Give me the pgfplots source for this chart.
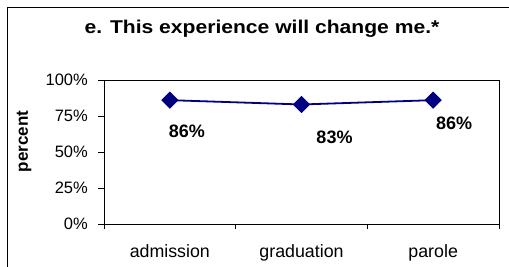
\documentclass[border=0pt]{standalone}
\usepackage{pgfplots}
\pgfplotsset{compat=1.18}
\usepackage{pgfplotstable}
\usepackage{fontspec}
\setmainfont{Liberation Sans}
\definecolor{navy}{RGB}{0,0,128}
\pgfplotstableread{
x y dx dy lab
0.5 86 17 -31 86
1.5 83 33 -32.5 83
2.5 86 21 -23 86
}\datatable
\begin{document}
\begin{tikzpicture}[x=1bp,y=1bp]
\useasboundingbox (0,0) rectangle (509,266);
\draw[line width=1bp] (7.5,-5) -- (7.5,258) -- (515,258);
\node[font=\bfseries\fontsize{18.5bp}{21bp}\selectfont, anchor=base] at (262,233) {\scalebox{1.14}[1]{e. This experience will change me.*}};
\node[font=\bfseries\fontsize{17bp}{20bp}\selectfont, rotate=90, anchor=center] at (24,124.5) {percent};
\begin{axis}[
  at={(104bp,42bp)}, anchor=south west, scale only axis,
  width=395bp, height=144bp,
  xmin=0, xmax=3, ymin=0, ymax=100,
  xtick={0.5,1.5,2.5}, xticklabels={admission,graduation,parole},
  minor xtick={0,1,2,3},
  ytick={0,25,50,75,100}, yticklabels={0\%,25\%,50\%,75\%,100\%},
  tick pos=left, tick align=outside,
  major tick length=6bp, minor tick length=5bp,
  major x tick style={draw=none},
  minor x tick style={black, line width=0.8bp},
  y tick style={black, line width=0.8bp},
  axis line style={line width=0.8bp},
  yticklabel style={font=\fontsize{16.5bp}{19bp}\selectfont, inner sep=0pt, xshift=-10bp},
  xticklabel style={font=\fontsize{17.8bp}{20bp}\selectfont, inner sep=0pt, anchor=base, yshift=-27bp},
  clip=false,
]
\addplot[navy, line width=1.8bp, mark=square*, mark size=5.2bp,
  mark options={rotate=45, fill=navy},
  visualization depends on={\thisrow{dx}\as\dx},
  visualization depends on={\thisrow{dy}\as\dy},
  point meta=explicit symbolic,
  nodes near coords={\pgfplotspointmeta\%},
  nodes near coords style={black, font=\bfseries\fontsize{18bp}{21bp}\selectfont, anchor=center, inner sep=0pt, xshift=\dx*1bp, yshift=\dy*1bp},
] table[x=x, y=y, meta=lab] {\datatable};
\end{axis}
\end{tikzpicture}
\end{document}
